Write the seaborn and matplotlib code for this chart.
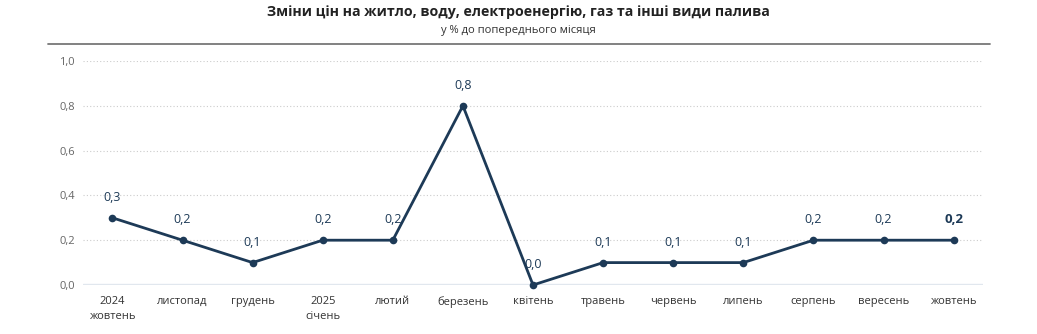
import matplotlib
matplotlib.use("Agg")
import matplotlib.pyplot as plt
import seaborn as sns
import pandas as pd

months = ["2024\nжовтень", "листопад", "грудень", "2025\nсічень", "лютий", "березень",
          "квітень", "травень", "червень", "липень", "серпень", "вересень", "жовтень"]
values = [0.3, 0.2, 0.1, 0.2, 0.2, 0.8, 0.0, 0.1, 0.1, 0.1, 0.2, 0.2, 0.2]
y_ticks = [0.0, 0.2, 0.4, 0.6, 0.8, 1.0]

title = "Зміни цін на житло, воду, електроенергію, газ та інші види палива"
subtitle = "у % до попереднього місяця"

sns.set_theme(style="white")
plt.rcParams["font.family"] = ["Open Sans", "DejaVu Sans"]

line_color = "#1d3a57"

df = pd.DataFrame({"pos": range(len(months)), "value": values})

fig = plt.figure(figsize=(10.37, 3.34), dpi=100)
ax = fig.add_axes([0.080, 0.1467, 0.868, 0.6707])

sns.lineplot(data=df, x="pos", y="value", ax=ax, color=line_color, linewidth=2,
             marker="o", markersize=5.5, markeredgewidth=0, clip_on=False, zorder=3)

ax.set_xlim(-0.42, len(months) - 1 + 0.42)
ax.set_ylim(0, 1.0)
ax.set_yticks(y_ticks)
ax.set_yticklabels([f"{t:.1f}".replace(".", ",") for t in y_ticks],
                   color="#666666", fontsize=8)
ax.set_xticks(range(len(months)))
ax.set_xticklabels(months, color="#333333", fontsize=8, linespacing=1.5)
ax.tick_params(axis="both", length=0, pad=6)
ax.tick_params(axis="x", pad=8)
ax.set_xlabel("")
ax.set_ylabel("")

for s in ax.spines.values():
    s.set_visible(False)
for t in y_ticks[1:]:
    ax.axhline(t, color="#cccccc", linewidth=0.8, linestyle=(0, (1, 2)), zorder=1)
ax.axhline(0, color="#e1e7ee", linewidth=2.4, zorder=1)

last = len(values) - 1
for i, v in enumerate(values):
    ax.annotate(f"{v:.1f}".replace(".", ","), (i, v), xytext=(0, 10),
                textcoords="offset points", ha="center", va="bottom",
                color=line_color, fontsize=9.5 if i == last else 9,
                fontweight="bold" if i == last else "normal")

fig.text(0.5, 1 - 12 / 334, title, ha="center", va="center",
         fontsize=10.2, fontweight="bold", color="#222222")
fig.text(0.5, 1 - 30 / 334, subtitle, ha="center", va="center",
         fontsize=8.1, color="#333333")
fig.add_artist(plt.Line2D([48 / 1037, 990 / 1037], [1 - 44 / 334] * 2,
                          color="#777777", linewidth=1.3))

fig.savefig("out.png", dpi=100)
